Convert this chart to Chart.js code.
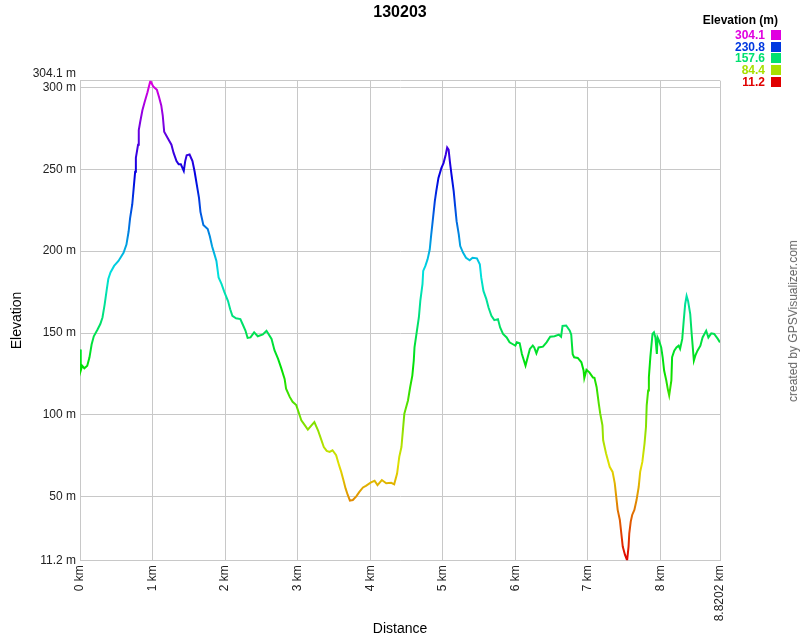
<!DOCTYPE html>
<html>
<head>
<meta charset="utf-8">
<title>130203</title>
<script src="https://cdn.jsdelivr.net/npm/chart.js"></script>
<style>
  body { margin: 0; background: #fff; font-family: "Liberation Sans", Arial, sans-serif; }
  #wrap { position: relative; width: 800px; height: 640px; }
  #profile { position: absolute; left: 0; top: 0; }
  .legend-title { position: absolute; left: 660px; top: 13px; width: 118px; text-align: right; font-weight: bold; font-size: 12px; color: #000; }
  .legend-row { position: absolute; left: 690px; width: 92px; height: 12px; font-weight: bold; font-size: 12px; line-height: 12px; }
  .legend-row span { position: absolute; right: 17px; top: 0; }
  .legend-row i { position: absolute; right: 1px; top: 1px; width: 10px; height: 10px; }
  .credit { position: absolute; left: 793px; top: 321px; transform: translate(-50%, -50%) rotate(-90deg); white-space: nowrap; font-size: 12px; color: #666; }
</style>
</head>
<body>
<div id="wrap">
  <canvas id="profile" width="800" height="640"></canvas>
  <div class="legend-title">Elevation (m)</div>
  <div id="legend"></div>
  <div class="credit">created by GPSVisualizer.com</div>
</div>
<script>
// Track profile (distance in km, elevation in m)
const distanceKm = [
  0, 0.01, 0.03, 0.06, 0.10, 0.13, 0.16, 0.19, 0.24, 0.28, 0.31, 0.34, 0.37, 0.39, 0.42, 0.47, 0.53, 0.60, 0.64, 0.67,
  0.69, 0.72, 0.74, 0.76, 0.77, 0.80, 0.81, 0.83, 0.86, 0.89, 0.93, 0.97, 1.01, 1.06, 1.09, 1.12, 1.14, 1.16, 1.21, 1.26,
  1.29, 1.33, 1.36, 1.39, 1.43, 1.45, 1.47, 1.51, 1.55, 1.58, 1.61, 1.64, 1.66, 1.70, 1.76, 1.79, 1.82, 1.84, 1.88, 1.91,
  1.95, 1.99, 2.04, 2.07, 2.10, 2.15, 2.21, 2.24, 2.28, 2.31, 2.35, 2.40, 2.45, 2.52, 2.57, 2.64, 2.68, 2.73, 2.77, 2.82,
  2.84, 2.89, 2.93, 2.98, 3.02, 3.05, 3.09, 3.14, 3.19, 3.23, 3.28, 3.32, 3.36, 3.40, 3.44, 3.48, 3.53, 3.57, 3.60, 3.63,
  3.66, 3.69, 3.72, 3.76, 3.81, 3.85, 3.90, 3.94, 4.01, 4.06, 4.10, 4.16, 4.22, 4.29, 4.33, 4.37, 4.40, 4.43, 4.45, 4.47,
  4.52, 4.55, 4.58, 4.60, 4.61, 4.64, 4.67, 4.69, 4.72, 4.73, 4.76, 4.79, 4.82, 4.84, 4.86, 4.89, 4.91, 4.94, 4.98, 5.01,
  5.04, 5.06, 5.08, 5.10, 5.12, 5.15, 5.17, 5.19, 5.22, 5.24, 5.28, 5.32, 5.37, 5.41, 5.47, 5.51, 5.53, 5.56, 5.60, 5.63,
  5.67, 5.71, 5.76, 5.79, 5.83, 5.88, 5.92, 5.96, 6.00, 6.02, 6.06, 6.09, 6.14, 6.17, 6.20, 6.24, 6.26, 6.29, 6.32, 6.38,
  6.43, 6.48, 6.54, 6.60, 6.63, 6.65, 6.70, 6.75, 6.77, 6.79, 6.81, 6.86, 6.91, 6.94, 6.95, 6.98, 7.02, 7.07, 7.09, 7.12,
  7.15, 7.17, 7.20, 7.21, 7.25, 7.30, 7.34, 7.37, 7.39, 7.41, 7.44, 7.46, 7.48, 7.51, 7.54, 7.56, 7.57, 7.59, 7.61, 7.64,
  7.67, 7.70, 7.72, 7.75, 7.78, 7.80, 7.81, 7.83, 7.84, 7.86, 7.89, 7.91, 7.93, 7.95, 7.96, 7.98, 8.01, 8.03, 8.05, 8.08,
  8.10, 8.12, 8.15, 8.16, 8.19, 8.22, 8.25, 8.27, 8.30, 8.32, 8.34, 8.36, 8.38, 8.41, 8.43, 8.46, 8.48, 8.51, 8.55, 8.58,
  8.63, 8.66, 8.70, 8.74, 8.79, 8.8202
];
const elevationM = [
  140, 127, 130, 128.5, 130, 135, 143, 148, 152, 155.5, 159.5, 167.5, 177, 183, 187, 191, 194, 199, 204, 212,
  220, 228.5, 238.5, 248.5, 257, 265, 274, 279, 286, 291, 297, 304.1, 300.5, 298.5, 294, 289, 283, 273, 269, 265,
  260, 255, 253, 253, 249, 255, 258.5, 259, 255, 248.5, 240.5, 232.5, 224, 216, 213.5, 209, 203, 200, 194, 184,
  180, 175, 169.5, 164.5, 160.5, 159, 158.5, 155.5, 151.5, 147, 147.3, 150.4, 148, 149.2, 151.4, 146.4, 139.5, 134.2, 129, 122,
  116, 111, 108, 106, 100.7, 96.7, 94.2, 91, 93.6, 95.6, 90.6, 85.5, 80.4, 78, 77.4, 78.4, 75.4, 69.3, 65.2, 60.2,
  55.1, 51.1, 47.6, 48, 50.4, 53, 55.7, 56.7, 58.8, 59.8, 57.1, 60.2, 58.2, 58.5, 57.6, 64.2, 74.4, 80.4, 90.6, 100.7,
  108.8, 116.9, 124, 133.2, 141.2, 150.4, 159.5, 169.6, 179.8, 187.9, 191, 195, 201, 210, 218, 230.5, 236.6, 244.7, 250.7, 253.8,
  258.9, 263.3, 262, 253.8, 246.7, 236.6, 227.4, 218.3, 210.2, 203.1, 199, 196, 194.4, 196, 195.6, 192, 183.8, 175.7, 170.7, 165.6,
  160.5, 157.9, 158.5, 153.4, 149.4, 147.3, 144.3, 143.3, 142.3, 144.3, 143.7, 137.2, 130.1, 135.2, 140.3, 142.3, 141.2, 137.6, 141.2, 141.7,
  144.3, 147.8, 148, 149, 147.8, 154.4, 154.6, 151.4, 149, 137, 135.2, 134.8, 132.1, 127.1, 122.5, 127.5, 126, 122.8, 122.6, 116.9,
  106.8, 100.7, 93.6, 84.5, 76.4, 68.3, 65.2, 58.2, 50.1, 42, 35.8, 27.7, 19.6, 14.6, 11.2, 19.6, 27.7, 34.8, 38.9, 42,
  48, 56.1, 65.2, 71.3, 82.5, 92.6, 105.8, 114.9, 123, 135.2, 149.4, 150.4, 147.3, 137.2, 147.3, 145.3, 141.2, 135.2, 127.1, 121,
  115.9, 111.9, 121, 135.2, 139.2, 141.2, 142.3, 140.3, 146.4, 157.4, 167.6, 172.7, 169.6, 161.5, 149.4, 133.2, 136.2, 139.2, 142.3, 147.3,
  151.4, 147.3, 149.8, 149.4, 146.4, 144.3
];

// Axis ticks and legend values
const xTicks = [0, 1, 2, 3, 4, 5, 6, 7, 8, 8.8202];
const yTicks = [11.2, 50, 100, 150, 200, 250, 300, 304.1];
const legendValues = [304.1, 230.8, 157.6, 84.4, 11.2];

const yMin = 11.2;
const yMax = 304.1;
const xMax = 8.8202;

Chart.defaults.font.family = '"Liberation Sans", Arial, sans-serif';

// Hue runs from red (lowest) to magenta (highest)
function elevationColor(v) {
  const f = (v - yMin) / (yMax - yMin);
  return 'hsl(' + Math.round(300 * f) + ', 100%, 44%)';
}

let gradient = null;
function lineGradient(context) {
  const chart = context.chart;
  if (!chart.chartArea) return null;
  if (!gradient) {
    const y = chart.scales.y;
    gradient = chart.ctx.createLinearGradient(0, y.getPixelForValue(yMin), 0, y.getPixelForValue(yMax));
    for (let h = 0; h <= 300; h += 60) {
      gradient.addColorStop(h / 300, 'hsl(' + h + ', 100%, 44%)');
    }
  }
  return gradient;
}

// Legend on the top right
function buildLegend() {
  const box = document.getElementById('legend');
  legendValues.forEach((v, i) => {
    const row = document.createElement('div');
    row.className = 'legend-row';
    row.style.top = (29 + i * 11.7) + 'px';
    row.style.color = elevationColor(v);
    row.innerHTML = '<span>' + v + '</span><i style="background:' + elevationColor(v) + '"></i>';
    box.appendChild(row);
  });
}

function createProfileChart() {
  const ctx = document.getElementById('profile').getContext('2d');
  new Chart(ctx, {
    type: 'line',
    data: {
      datasets: [{
        data: distanceKm.map((d, i) => ({ x: d, y: elevationM[i] })),
        borderColor: lineGradient,
        borderWidth: 2,
        pointRadius: 0,
        tension: 0,
        fill: false
      }]
    },
    options: {
      responsive: false,
      animation: false,
      layout: { padding: { left: 0, right: 80, top: 0, bottom: 0 } },
      plugins: {
        legend: { display: false },
        tooltip: { enabled: false },
        title: {
          display: true,
          fullSize: false,
          text: '130203',
          color: '#000',
          font: { size: 16, weight: 'bold' },
          padding: { top: 3, bottom: 58.5 }
        }
      },
      scales: {
        x: {
          type: 'linear',
          min: 0,
          max: xMax,
          afterBuildTicks: s => { s.ticks = xTicks.map(v => ({ value: v })); },
          afterFit: s => { s.height = 79.7; },
          ticks: {
            autoSkip: false,
            minRotation: 90,
            maxRotation: 90,
            padding: 5,
            color: '#222',
            font: { size: 12 },
            callback: v => v + ' km'
          },
          grid: { color: '#c8c8c8', drawTicks: false },
          border: { color: '#c8c8c8' },
          title: { display: true, text: 'Distance', color: '#000', font: { size: 14 }, padding: { top: 0, bottom: 2 } }
        },
        y: {
          min: yMin,
          max: yMax,
          afterBuildTicks: s => { s.ticks = yTicks.map(v => ({ value: v })); },
          afterFit: s => { s.width = 80; },
          ticks: {
            autoSkip: false,
            padding: 4,
            color: '#222',
            font: { size: 12 },
            callback: v => v === yMax ? [v + ' m', ''] : v + ' m'
          },
          grid: { color: '#c8c8c8', drawTicks: false },
          border: { color: '#c8c8c8' },
          title: { display: true, text: 'Elevation', color: '#000', font: { size: 14 }, padding: { top: 9, bottom: 0 } }
        }
      }
    }
  });
}

buildLegend();
createProfileChart();
</script>
</body>
</html>
